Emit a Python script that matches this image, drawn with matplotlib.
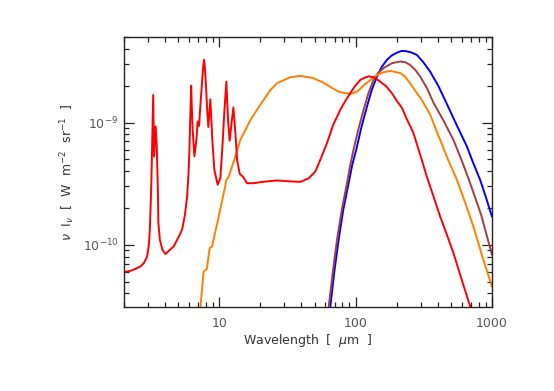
import matplotlib
matplotlib.use("Agg")
import matplotlib.pyplot as plt
from matplotlib.ticker import LogLocator, NullFormatter

# ---- data ----
red_wl = [2.00, 2.29, 2.64, 2.79, 2.95, 3.04, 3.09, 3.17, 3.27, 3.32, 3.41, 3.47, 3.54,
          3.57, 3.66, 3.82, 4.02, 4.62, 4.97, 5.33, 5.59, 5.80, 5.93, 6.03, 6.11, 6.21,
          6.29, 6.37, 6.56, 6.78, 6.93, 7.10, 7.26, 7.44, 7.59, 7.73, 7.83, 7.97,
          8.14, 8.30, 8.59, 8.88, 9.19, 9.72, 10.17, 10.5, 10.9, 11.25, 11.58, 11.9,
          12.25, 12.67, 13.06, 13.5, 14.1, 14.9, 15.96, 17.8, 20.6, 26.5, 33.2,
          39.3, 45.2, 50.6, 55.0, 61.6, 68.5, 77.1, 83.9, 91.3, 99.3, 108.1, 115.6,
          124.4, 136.8, 151.5, 167.4, 184.5, 198.4, 218.4, 239, 265.5, 297.5, 333,
          372.7, 417, 467, 522, 600, 692]
red_flux = [5.98e-11, 6.17e-11, 6.65e-11, 7.08e-11, 8.0e-11, 1.0e-10, 1.33e-10, 3.2e-10,
            1.68e-9, 5.27e-10, 9.3e-10, 6.6e-10, 2.8e-10, 1.5e-10, 1.10e-10, 9.1e-11,
            8.4e-11, 9.7e-11, 1.13e-10, 1.33e-10, 1.76e-10, 2.48e-10, 3.73e-10, 6.0e-10,
            1.05e-9, 2.0e-9, 1.27e-9, 8.7e-10, 5.3e-10, 7.2e-10, 1.02e-9, 9.4e-10,
            1.39e-9, 2.03e-9, 2.80e-9, 3.26e-9, 2.80e-9, 2.03e-9, 1.27e-9, 9.2e-10,
            1.55e-9, 7.2e-10, 4.1e-10, 3.1e-10, 3.53e-10, 6.0e-10, 1.27e-9, 2.16e-9,
            1.05e-9, 7.1e-10, 9.6e-10, 1.33e-9, 8.7e-10, 4.95e-10, 3.81e-10, 3.6e-10,
            3.19e-10, 3.19e-10, 3.27e-10, 3.36e-10, 3.3e-10, 3.27e-10, 3.5e-10,
            3.97e-10, 4.95e-10, 6.8e-10, 9.6e-10, 1.27e-9, 1.50e-9, 1.74e-9, 2.0e-9,
            2.23e-9, 2.32e-9, 2.39e-9, 2.34e-9, 2.16e-9, 1.98e-9, 1.74e-9, 1.53e-9,
            1.32e-9, 1.05e-9, 8.2e-10, 5.45e-10, 3.6e-10, 2.48e-10, 1.70e-10, 1.21e-10,
            8.55e-11, 5.18e-11, 3.13e-11]

orange_wl = [7.26, 7.45, 7.67, 8.09, 8.49, 8.84, 9.89, 10.9, 11.25, 11.7, 13.1, 14.25,
             16.9, 20.0, 23.7, 26.5, 33.2, 39.3, 48.1, 58.2, 61.6, 75.0, 91.3, 102.4,
             117, 143, 159, 179.4, 212.4, 231, 251, 273.7, 306, 352, 417, 477, 553,
             637, 731, 848, 1000]
orange_flux = [3.03e-11, 4.28e-11, 6.05e-11, 6.32e-11, 9.4e-11, 9.7e-11, 1.70e-10,
               2.82e-10, 3.4e-10, 3.6e-10, 5.3e-10, 7.2e-10, 1.05e-9, 1.40e-9, 1.85e-9,
               2.10e-9, 2.35e-9, 2.41e-9, 2.32e-9, 2.12e-9, 2.03e-9, 1.79e-9, 1.71e-9,
               1.79e-9, 2.06e-9, 2.45e-9, 2.57e-9, 2.65e-9, 2.54e-9, 2.37e-9, 2.10e-9,
               1.82e-9, 1.53e-9, 1.16e-9, 7.2e-10, 4.95e-10, 3.4e-10, 2.2e-10,
               1.41e-10, 8.1e-11, 4.54e-11]

brown_wl = [63.5, 68.0, 73.0, 79.1, 86.4, 91.3, 96.5, 104.4, 114.3, 123.7, 135.2,
            146.4, 160.3, 184.5, 212.4, 231, 251, 273.7, 297.5, 333, 372.7, 438.6,
            522, 605, 692, 833, 1000]
brown_flux = [3.13e-11, 6.0e-11, 1.10e-10, 1.93e-10, 3.19e-10, 4.51e-10, 6.0e-10,
              8.7e-10, 1.27e-9, 1.72e-9, 2.23e-9, 2.55e-9, 2.79e-9, 3.06e-9, 3.16e-9,
              3.12e-9, 2.96e-9, 2.70e-9, 2.38e-9, 1.92e-9, 1.45e-9, 1.05e-9, 7.2e-10,
              4.78e-10, 3.19e-10, 1.76e-10, 8.3e-11]

blue_wl = [65.2, 69.7, 75.0, 81.1, 88.8, 94.4, 101, 109.9, 121, 131.3, 143.3, 155.3,
           169.5, 183.9, 200.8, 216, 231, 255.6, 281, 313, 352, 403.6, 467, 547,
           654, 728, 819, 906, 1000]
blue_flux = [3.13e-11, 6.0e-11, 1.10e-10, 1.93e-10, 3.19e-10, 4.51e-10, 6.0e-10,
             9.05e-10, 1.35e-9, 1.85e-9, 2.38e-9, 2.85e-9, 3.26e-9, 3.54e-9, 3.73e-9,
             3.85e-9, 3.85e-9, 3.75e-9, 3.58e-9, 3.13e-9, 2.61e-9, 2.0e-9, 1.42e-9,
             9.7e-10, 6.4e-10, 4.68e-10, 3.4e-10, 2.42e-10, 1.70e-10]

x_ticks = [10, 100, 1000]
x_tick_labels = ["10", "100", "1000"]
y_ticks = [1e-10, 1e-9]
y_tick_labels = [r"$10^{-10}$", r"$10^{-9}$"]

# ---- figure ----
plt.rcParams['font.family'] = ['DejaVu Sans']
plt.rcParams['mathtext.fontset'] = 'dejavusans'
fig = plt.figure(figsize=(5.54, 3.91), dpi=100)
ax = fig.add_axes([0.224, 0.215, 0.664, 0.690])

lw = 1.4
kw = dict(lw=lw, solid_joinstyle="round", solid_capstyle="round")
ax.plot(blue_wl, blue_flux, color="#0000ff", **kw)
ax.plot(brown_wl, brown_flux, color="#a83c3c", **kw)
ax.plot(orange_wl, orange_flux, color="#ff8000", **kw)
ax.plot(red_wl, red_flux, color="#ff0000", **kw)

ax.set_xscale("log")
ax.set_yscale("log")
ax.set_xlim(2, 1000)
ax.set_ylim(3.1e-11, 5.0e-9)

ax.set_xticks(x_ticks)
ax.set_xticklabels(x_tick_labels)
ax.set_yticks(y_ticks)
ax.set_yticklabels(y_tick_labels)
ax.xaxis.set_minor_locator(LogLocator(base=10, subs=range(2, 10), numticks=20))
ax.yaxis.set_minor_locator(LogLocator(base=10, subs=range(2, 10), numticks=20))
ax.xaxis.set_minor_formatter(NullFormatter())
ax.yaxis.set_minor_formatter(NullFormatter())

ax.tick_params(which="both", direction="in", top=True, right=True, width=0.9,
               colors="#222222", labelcolor="#555555", labelsize=9)
ax.tick_params(which="major", length=7)
ax.tick_params(axis="x", which="major", pad=7)
ax.tick_params(axis="y", which="major", pad=4)
ax.tick_params(which="minor", length=3.5)
for s in ax.spines.values():
    s.set_linewidth(1.0)
    s.set_color("#222222")

ax.set_xlabel(r"Wavelength  [  $\mu$m  ]", fontsize=9, color="#333333", labelpad=2)
ax.set_ylabel(r"$\nu$  I$_\nu$  [  W  m$^{-2}$  sr$^{-1}$  ]", fontsize=9,
              color="#333333", labelpad=4)

fig.savefig("out.png", dpi=100)
